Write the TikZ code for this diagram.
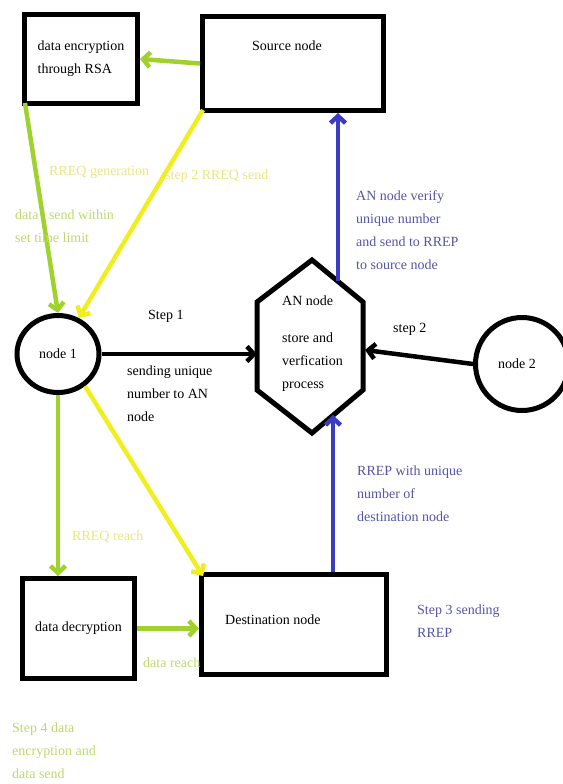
\documentclass[tikz,border=0pt]{standalone}
\usepackage{fontspec}
\setmainfont{Liberation Serif}
\usetikzlibrary{arrows.meta,shapes.geometric,positioning}

\definecolor{arrgreen}{RGB}{160,210,45}
\definecolor{arryellow}{RGB}{240,238,30}
\definecolor{arrblue}{RGB}{60,60,195}
\definecolor{txtgreen}{RGB}{190,215,110}
\definecolor{txtyellow}{RGB}{232,230,125}
\definecolor{txtblue}{RGB}{85,85,165}

\tikzset{
	box/.style = {draw, line width=5pt, inner sep=0pt, align=left},
	blob/.style = {draw, ellipse, line width=5pt, inner sep=0pt},
	link/.style = {line width=4.5pt, -{Straight Barb[length=7pt,width=15pt]}},
	lbl/.style = {anchor=north west, inner sep=0pt, align=left}
}

\begin{document}
\begin{tikzpicture}[
			x = 1pt, y = -1pt,
			every node/.style = {font=\fontsize{14}{23}\selectfont}
			]

			\useasboundingbox (0,0) rectangle (562,784);

			% boxes
			\node[box, minimum width=113pt, minimum height=89pt] (enc) at (81,59) {data encryption\\through RSA};
			\node[box, minimum width=181pt, minimum height=94pt] (src) at (293,63.5) {};
			\node[box, minimum width=112pt, minimum height=100pt] (dec) at (78.5,628.5) {data decryption};
			\node[box, minimum width=185pt, minimum height=100pt] (dest) at (294,624.5) {};
			\node[lbl] (srctxt) at (252,41) {Source node};
			\node[lbl] (desttxt) at (225,615) {Destination node};

			% nodes 1 and 2
			\node[blob, minimum width=82pt, minimum height=77pt] (n1) at (58,354) {node 1};
			\node[blob, minimum width=93pt, minimum height=93pt] (n2) at (522,364) {\hspace*{-10pt}node 2};

			% AN node
			\coordinate (an-n) at (312,260);
			\coordinate (an-ne) at (363,302);
			\coordinate (an-se) at (363,390);
			\coordinate (an-s) at (312,433);
			\coordinate (an-sw) at (257,390);
			\coordinate (an-nw) at (257,302);
			\draw[line width=5pt, line join=miter] (an-n) -- (an-ne) -- (an-se) -- (an-s) -- (an-sw) -- (an-nw) -- cycle;
			\node[lbl] (antitle) at (282,296) {AN node};
			\node[lbl] (antxt) at (282,333) {store and\\verfication\\process};
			\coordinate (an-w) at (257,354);
			\coordinate (an-e) at (365,350);
			\coordinate (an-top) at (338,281);
			\coordinate (an-bot) at (333,415);

			% connectors
			\draw[link, arrgreen] (src.west) -- (enc.east);
			\draw[link, arrgreen] ([shift={(3,-3)}]enc.south west) -- (n1.north);
			\draw[link, arryellow] ([shift={(3,-3)}]src.south west) -- (n1.60);
			\draw[link, black] (n1.east) -- (an-w);
			\draw[link, black] (n2.west) -- (an-e);
			\draw[link, arrblue] (an-top) -- (an-top |- src.south);
			\draw[link, arrblue] (dest.north -| an-bot) -- (an-bot);
			\draw[link, arrgreen] (n1.south) -- (n1.south |- dec.north);
			\draw[link, arryellow] (n1.-50) -- ([shift={(4,4)}]dest.north west);
			\draw[link, arrgreen] (dec.east) -- (dec.east -| dest.west);

			% labels
			\node[lbl, txtyellow] (l-gen) at (49,166) {RREQ generation};
			\node[lbl, txtyellow] (l-send) at (165,170) {step 2 RREQ send};
			\node[lbl, txtgreen] (l-time) at (15,210) {data \ \ send within\\set time limit};
			\node[lbl] (l-s1) at (148,310) {Step 1};
			\node[lbl] (l-uniq) at (127,366) {sending unique\\number to AN\\node};
			\node[lbl, txtblue] (l-verify) at (356,190) {AN node verify\\unique number\\and send to RREP\\to source node};
			\node[lbl] (l-s2) at (393,323) {step 2};
			\node[lbl, txtblue] (l-rrep) at (357,466) {RREP with unique\\number of\\destination node};
			\node[lbl, txtblue] (l-s3) at (417,605) {Step 3 sending\\RREP};
			\node[lbl, txtyellow] (l-reach) at (72,531) {RREQ reach};
			\node[lbl, txtgreen] (l-dreach) at (143,658) {data reach};
			\node[lbl, txtgreen] (l-s4) at (12,723) {Step 4 data\\encryption and\\data send};

		\end{tikzpicture}
\end{document}
